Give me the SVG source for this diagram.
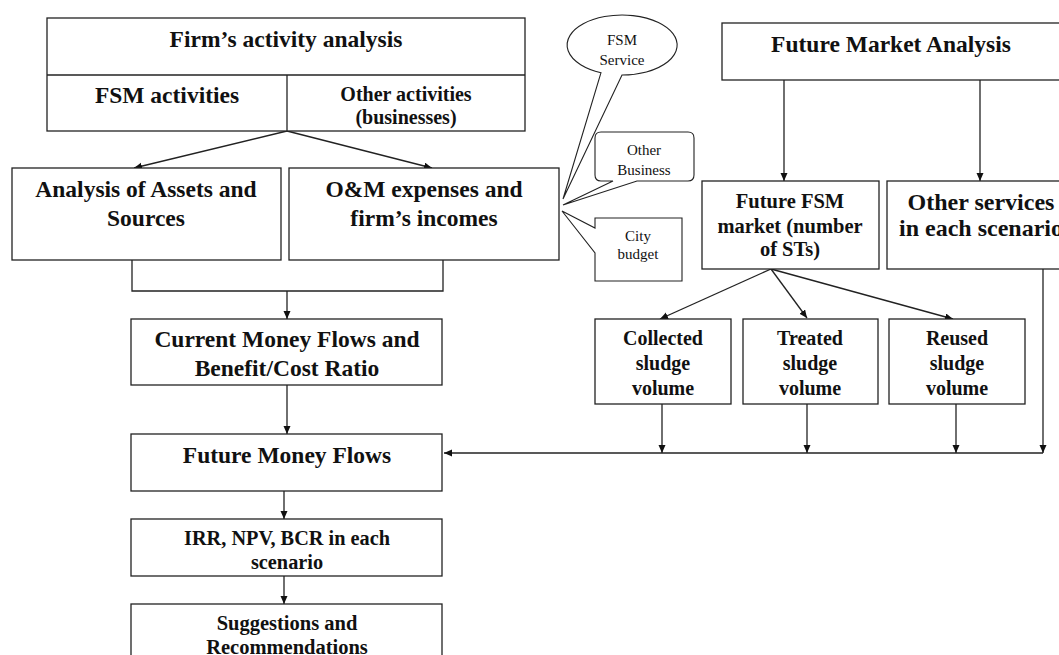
<svg xmlns="http://www.w3.org/2000/svg" width="1059" height="655" viewBox="0 0 1059 655">
  <style>
    .box { fill: #ffffff; stroke: #222222; stroke-width: 1.3; }
    .call { fill: #ffffff; stroke: #222222; stroke-width: 1.1; }
    .ln { fill: none; stroke: #222222; stroke-width: 1.3; }
    .arr { fill: none; stroke: #222222; stroke-width: 1.3; marker-end: url(#ah); }
    .t { font-family: "Liberation Serif", "Times New Roman", serif; font-weight: bold; fill: #111111; text-anchor: middle; }
    .big { font-size: 23.5px; }
    .mid { font-size: 20.5px; }
    .sm { font-family: "Liberation Serif", "Times New Roman", serif; font-size: 15px; fill: #111111; text-anchor: middle; }
  </style>
  <defs>
    <marker id="ah" markerUnits="userSpaceOnUse" markerWidth="9" markerHeight="8" refX="8" refY="3.5" orient="auto">
      <path d="M0,0 L8,3.5 L0,7 Z" fill="#111111"/>
    </marker>
  </defs>
  <rect width="1059" height="655" fill="#ffffff"/>

  <!-- connectors -->
  <g id="connectors">
    <line class="arr" x1="287" y1="131" x2="134" y2="168"/>
    <line class="arr" x1="287" y1="131" x2="432" y2="168"/>
    <polyline class="ln" points="132,260 132,291 443,291 443,260"/>
    <line class="arr" x1="287" y1="291" x2="287" y2="319"/>
    <line class="arr" x1="287" y1="385" x2="287" y2="434"/>
    <line class="arr" x1="284" y1="491" x2="284" y2="519"/>
    <line class="arr" x1="284" y1="576" x2="284" y2="604"/>
    <line class="arr" x1="784" y1="80" x2="784" y2="181"/>
    <line class="arr" x1="980" y1="80" x2="980" y2="181"/>
    <line class="arr" x1="771" y1="269" x2="660" y2="319"/>
    <line class="arr" x1="771" y1="269" x2="807" y2="318"/>
    <line class="arr" x1="771" y1="269" x2="953" y2="319"/>
    <line class="arr" x1="662" y1="404" x2="662" y2="453"/>
    <line class="arr" x1="807" y1="404" x2="807" y2="453"/>
    <line class="arr" x1="956" y1="404" x2="956" y2="453"/>
    <line class="arr" x1="1043" y1="269" x2="1043" y2="453"/>
    <line class="arr" x1="1043" y1="453" x2="444" y2="453"/>
  </g>

  <!-- firm's activity analysis -->
  <g id="firm-activity">
    <rect class="box" x="47" y="18" width="478" height="113"/>
    <line class="ln" x1="47" y1="75" x2="525" y2="75"/>
    <line class="ln" x1="287" y1="75" x2="287" y2="131"/>
    <text class="t big" x="286" y="47">Firm’s activity analysis</text>
    <text class="t big" x="167" y="103">FSM activities</text>
    <text class="t" font-size="20" x="406" y="101">Other activities</text>
    <text class="t" font-size="20" x="406" y="124">(businesses)</text>
  </g>

  <g id="assets-sources">
    <rect class="box" x="12" y="168" width="269" height="92"/>
    <text class="t big" x="146" y="197">Analysis of Assets and</text>
    <text class="t big" x="146" y="226">Sources</text>
  </g>

  <g id="om-expenses">
    <rect class="box" x="289" y="168" width="270" height="92"/>
    <text class="t big" x="424" y="197">O&amp;M expenses and</text>
    <text class="t big" x="424" y="226">firm’s incomes</text>
  </g>

  <!-- income sources -->
  <g id="fsm-service">
    <path class="call" d="M601,72.7 L563,199 L622,75 A55,30 0 1 0 601,72.7 Z"/>
    <text class="sm" x="622" y="45">FSM</text>
    <text class="sm" x="622" y="65">Service</text>
  </g>

  <g id="other-business">
    <path class="call" d="M601,132 H688 Q694,132 694,138 V175 Q694,181 688,181 H637 L563,205 L613,181 H601 Q595,181 595,175 V138 Q595,132 601,132 Z"/>
    <text class="sm" x="644" y="155">Other</text>
    <text class="sm" x="644" y="175">Business</text>
  </g>

  <g id="city-budget">
    <path class="call" d="M595,218 H682 V281 H595 V253 L562,211 L595,228 Z"/>
    <text class="sm" x="638" y="241">City</text>
    <text class="sm" x="638" y="259">budget</text>
  </g>

  <g id="current-flows">
    <rect class="box" x="131" y="319" width="311" height="66"/>
    <text class="t big" x="287" y="347">Current Money Flows and</text>
    <text class="t big" x="287" y="376">Benefit/Cost Ratio</text>
  </g>

  <g id="future-flows">
    <rect class="box" x="131" y="434" width="311" height="57"/>
    <text class="t big" x="287" y="463">Future Money Flows</text>
  </g>

  <g id="indicators">
    <rect class="box" x="131" y="519" width="311" height="57"/>
    <text class="t" font-size="20.3" x="287" y="545">IRR, NPV, BCR in each</text>
    <text class="t" font-size="20.3" x="287" y="569">scenario</text>
  </g>

  <g id="suggestions">
    <rect class="box" x="131" y="604" width="311" height="60"/>
    <text class="t mid" x="287" y="630">Suggestions and</text>
    <text class="t mid" x="287" y="654">Recommendations</text>
  </g>

  <!-- market side -->
  <g id="future-market">
    <rect class="box" x="722" y="23" width="360" height="57"/>
    <text class="t big" x="891" y="52">Future Market Analysis</text>
  </g>

  <g id="future-fsm-market">
    <rect class="box" x="702" y="181" width="177" height="88"/>
    <text class="t mid" x="790" y="208">Future FSM</text>
    <text class="t mid" x="790" y="233">market (number</text>
    <text class="t mid" x="790" y="256">of STs)</text>
  </g>

  <g id="other-services">
    <rect class="box" x="887" y="181" width="190" height="88"/>
    <text class="t" font-size="24" x="981" y="210">Other services</text>
    <text class="t" font-size="24" x="981" y="236">in each scenario</text>
  </g>

  <g id="collected">
    <rect class="box" x="595" y="319" width="136" height="85"/>
    <text class="t" font-size="20" x="663" y="345">Collected</text>
    <text class="t" font-size="20" x="663" y="370">sludge</text>
    <text class="t" font-size="20" x="663" y="395">volume</text>
  </g>

  <g id="treated">
    <rect class="box" x="743" y="319" width="135" height="85"/>
    <text class="t" font-size="20" x="810" y="345">Treated</text>
    <text class="t" font-size="20" x="810" y="370">sludge</text>
    <text class="t" font-size="20" x="810" y="395">volume</text>
  </g>

  <g id="reused">
    <rect class="box" x="889" y="319" width="136" height="85"/>
    <text class="t" font-size="20" x="957" y="345">Reused</text>
    <text class="t" font-size="20" x="957" y="370">sludge</text>
    <text class="t" font-size="20" x="957" y="395">volume</text>
  </g>
</svg>
